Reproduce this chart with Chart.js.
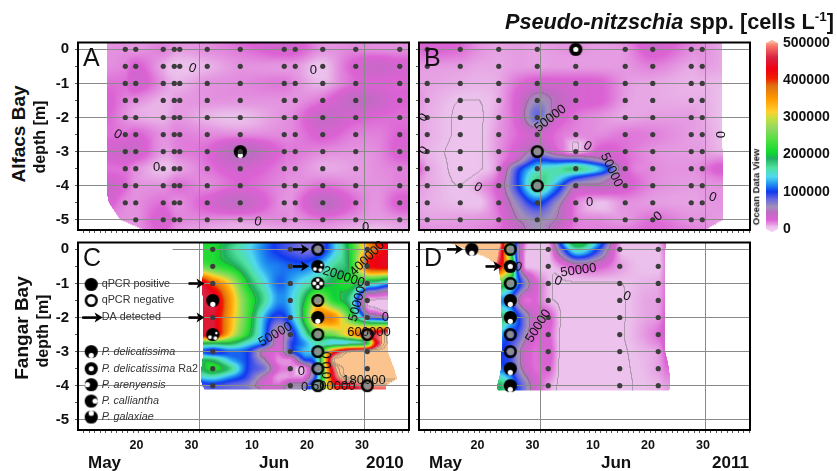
<!DOCTYPE html>
<html>
<head>
<meta charset="utf-8">
<script src="https://cdn.jsdelivr.net/npm/chart.js@4"></script>
<style>
html, body { margin: 0; padding: 0; background: #fff; }
body { position: relative; width: 837px; height: 471px; overflow: hidden; font-family: "Liberation Sans", Arial, sans-serif; color: #111; }
canvas { position: absolute; }
.lbl { position: absolute; font-weight: bold; white-space: nowrap; line-height: 1; }
.rot { transform: translate(-50%, -50%) rotate(-90deg); }
sup { font-size: 62%; line-height: 0; }
</style>
</head>
<body>
<canvas id="panelA" width="373" height="200" style="left:37.5px;top:38px"></canvas>
<canvas id="panelB" width="373" height="200" style="left:379px;top:38px"></canvas>
<canvas id="panelC" width="373" height="218" style="left:37.5px;top:237.5px"></canvas>
<canvas id="panelD" width="373" height="218" style="left:379px;top:237.5px"></canvas>
<canvas id="colorbar" width="77" height="204" style="left:760px;top:34px"></canvas>

<div class="lbl" style="left:505px;top:11px;font-size:21.7px"><i>Pseudo-nitzschia</i> spp. [cells L<sup>-1</sup>]</div>
<div class="lbl rot" style="left:18px;top:134px;font-size:19px">Alfacs Bay</div>
<div class="lbl rot" style="left:40px;top:137px;font-size:16px">depth [m]</div>
<div class="lbl rot" style="left:21px;top:328px;font-size:19px">Fangar Bay</div>
<div class="lbl rot" style="left:43px;top:331px;font-size:16px">depth [m]</div>
<div class="lbl rot" style="left:756px;top:187px;font-size:9.5px;font-weight:bold">Ocean Data View</div>
<div class="lbl" style="left:88px;top:454px;font-size:17px">May</div>
<div class="lbl" style="left:259px;top:454px;font-size:17px">Jun</div>
<div class="lbl" style="left:366px;top:454px;font-size:17px">2010</div>
<div class="lbl" style="left:429px;top:454px;font-size:17px">May</div>
<div class="lbl" style="left:601px;top:454px;font-size:17px">Jun</div>
<div class="lbl" style="left:712px;top:454px;font-size:17px">2011</div>

<script>
// x values are days counted from 1 May (1 Jun = 32, 1 Jul = 62), depth in m, cells in thousands per litre
const monthLines = [32, 62];
const dayTickValues = [20, 30, 41, 51, 61];
const dayTickLabels = ['20', '30', '10', '20', '30'];
const depthTicks = [0, -0.5, -1, -1.5, -2, -2.5, -3, -3.5, -4, -4.5, -5];
const barTicks = [0, 100000, 200000, 300000, 400000, 500000];

// colour scale
const scaleValues = [0, 6, 12, 25, 45, 60, 80, 100, 120, 140, 165, 190, 205, 240, 270, 295, 315, 350, 385, 405, 430, 460, 490, 500];
const scaleColors = ['#f0c8f0', '#ebbfeb', '#e59ce2', '#dc62d4', '#bd6cc2', '#a090b8', '#6868e0', '#1038f0', '#2090f0', '#50d8f0', '#50e0a0', '#20b060', '#10d830', '#50e040', '#90d860', '#c0e040', '#ffd030', '#ff9a00', '#e07010', '#f02000', '#f00010', '#d82040', '#f87068', '#f8a080'];
const overColor = '#fbc48e';

// panel A
const stationDaysA = [18.6, 20.5, 25.5, 27.5, 28.5, 33.5, 39.5, 47.5, 49.5, 54.5, 60.5, 68.5];
const fieldDaysA = [15.2, 18.6, 20.5, 25.5, 28, 33.5, 39.5, 47.5, 49.5, 54.5, 60.5, 64.5, 68.5];
const fieldDepthsA = [0.2, 0, -0.5, -1, -1.5, -2, -2.5, -3, -3.5, -4, -4.5, -5, -5.3];
const fieldA = [
  [14, 14, 13, 16, 14, 15, 24, 32, 30, 14, 16, 15, 15],
  [14, 15, 13, 18, 12, 15, 20, 30, 28, 14, 17, 15, 15],
  [15, 18, 27, 10, 5, 8, 14, 13, 13, 5, 28, 37, 30],
  [22, 22, 32, 14, 8, 14, 16, 20, 15, 8, 24, 26, 24],
  [28, 18, 15, 8, 12, 14, 14, 14, 14, 22, 44, 38, 26],
  [25, 15, 10, 8, 13, 8, 6, 14, 18, 38, 28, 24, 22],
  [22, 22, 26, 14, 18, 16, 16, 16, 18, 28, 18, 18, 25],
  [32, 36, 34, 12, 18, 24, 50, 22, 20, 16, 14, 16, 28],
  [22, 22, 14, 6, 10, 20, 32, 18, 16, 10, 12, 15, 18],
  [38, 24, 14, 14, 22, 16, 25, 16, 14, 22, 15, 14, 18],
  [30, 16, 15, 22, 15, 28, 42, 14, 18, 45, 22, 14, 28],
  [15, 15, 14, 30, 18, 16, 14, 16, 14, 20, 14, 12, 14],
  [12, 12, 14, 26, 14, 10, 8, 10, 10, 12, 8, 6, 10]
];
const edgeDepthsA = [0.2, -4.2, -4.5, -5, -5.3];
const edgeLeftA = [15.2, 15.2, 15.6, 17.7, 22];
const edgeRightA = [71, 71, 71, 71, 71];
const levelsA = [5];
const labelsA = [['0', 30.8, -0.56, 20], ['0', 52.8, -0.63, 0], ['0', 17.2, -2.5, 30], ['0', 24.3, -3.46, 0], ['0', 42.7, -5.06, 10], ['0', 62.3, -5.22, 0]];
const qpcrPositiveA = [[39.5, -3]];

// panel B
const stationDaysB = [11.5, 17.5, 24.5, 31.5, 38.5, 47.5, 52.5, 59.5, 61.5];
const fieldDaysB = [10, 11.5, 17.5, 21, 24.5, 28, 31.5, 35, 38.5, 43, 47.5, 52.5, 59.5, 61.5, 65];
const fieldDepthsB = [0.2, 0, -0.5, -1, -1.5, -2, -2.5, -3, -3.25, -3.5, -3.75, -4, -4.5, -5, -5.3];
const fieldB = [
  [24, 28, 24, 14, 11, 12, 11, 13, 14, 12, 16, 34, 18, 15, 10],
  [22, 26, 22, 14, 11, 12, 11, 13, 14, 12, 14, 30, 16, 15, 10],
  [13, 13, 12, 10, 10, 12, 11, 12, 12, 12, 13, 18, 10, 12, 10],
  [11, 11, 9, 8, 10, 22, 32, 30, 28, 26, 13, 10, 8, 8, 7],
  [13, 10, 5, 5, 10, 30, 62, 45, 30, 26, 12, 10, 9, 9, 6],
  [10, 9, 4, 4, 12, 30, 80, 35, 20, 14, 10, 12, 12, 10, 6],
  [10, 9, 4, 4, 13, 24, 35, 22, 16, 16, 20, 18, 12, 11, 7],
  [10, 8, 3, 4, 14, 32, 58, 30, 4, 30, 22, 14, 12, 12, 8],
  [14, 9, 3, 4, 14, 45, 100, 90, 90, 55, 25, 15, 13, 14, 18],
  [24, 11, 3, 4, 18, 90, 145, 160, 175, 130, 30, 16, 14, 18, 30],
  [16, 10, 4, 8, 25, 100, 170, 150, 105, 70, 30, 16, 13, 15, 20],
  [12, 10, 5, 12, 32, 100, 175, 120, 45, 45, 30, 16, 12, 13, 14],
  [10, 9, 6, 5, 25, 68, 105, 65, 18, 6, 14, 12, 11, 12, 14],
  [12, 11, 12, 14, 20, 50, 65, 50, 20, 16, 13, 22, 14, 14, 12],
  [16, 14, 14, 16, 22, 40, 60, 40, 18, 18, 18, 24, 18, 16, 12]
];
const edgeDepthsB = [0.2, -5, -5.3];
const edgeLeftB = [9, 9, 9];
const edgeRightB = [65, 65.3, 62];
const levelsB = [5, 50];
const labelsB = [['0', 10.8, -2, -60], ['0', 10.9, -2.97, -60], ['50000', 33.9, -2.03, -38], ['0', 40.6, -2.84, 30], ['50000', 45, -3.54, 65], ['0', 20.7, -4.05, 30], ['0', 41, -4.5, 0], ['0', 63.4, -4.34, 20], ['0', 53.5, -4.9, -40], ['0', 64.7, -2.5, 90]];
const ra2B = [[38.5, 0]];
const qpcrNegativeB = [[31.5, -3], [31.5, -4]];

// panel C
const stationDaysC = [34.5, 48.6, 62.6];
const fieldDaysC = [32.3, 34.5, 37.7, 40.8, 43.8, 46.5, 48.6, 51, 53.6, 56.5, 59.5, 62.6, 64.1, 66.2, 67.7];
const fieldDepthsC = [0.2, 0, -0.5, -1, -1.5, -2, -2.5, -2.75, -3, -3.25, -3.5, -3.75, -4, -4.15];
const fieldC = [
  [215, 215, 185, 150, 118, 95, 85, 75, 75, 130, 215, 350, 400, 440, 440],
  [215, 215, 175, 145, 115, 95, 85, 75, 80, 130, 210, 340, 390, 430, 430],
  [250, 230, 205, 165, 125, 115, 110, 110, 130, 170, 205, 400, 430, 440, 440],
  [450, 390, 310, 205, 150, 110, 125, 150, 175, 200, 215, 170, 160, 130, 130],
  [460, 460, 350, 240, 170, 120, 135, 190, 290, 215, 170, 8, 4, 3, 3],
  [450, 450, 340, 235, 130, 90, 120, 205, 370, 360, 240, 100, 80, 60, 60],
  [440, 455, 320, 215, 120, 40, 80, 150, 240, 260, 340, 430, 470, 520, 520],
  [210, 205, 200, 150, 110, 35, 90, 120, 160, 140, 150, 200, 420, 540, 540],
  [110, 90, 110, 100, 40, 25, 90, 130, 170, 400, 530, 550, 550, 550, 550],
  [190, 185, 130, 100, 55, 15, 15, 90, 150, 530, 550, 550, 550, 550, 550],
  [190, 220, 175, 100, 75, 25, 20, 5, 130, 480, 550, 550, 550, 550, 550],
  [140, 150, 120, 90, 45, 12, 15, 20, 130, 450, 550, 550, 550, 550, 550],
  [85, 90, 80, 70, 30, 25, 60, 60, 180, 400, 450, 500, 500, 500, 500],
  [80, 85, 80, 80, 50, 50, 60, 70, 170, 380, 430, 480, 480, 480, 480]
];
const edgeDepthsC = [0.2, -1, -3, -3.5, -3.8, -4, -4.12];
const edgeLeftC = [32.8, 32.6, 32.8, 32.4, 32.3, 32.6, 33];
const edgeRightC = [66.3, 66.3, 66.3, 67.5, 68, 66, 66];
const levelsC = [5, 50, 200, 505, 525, 540];
const labelsC = [['50000', 45.9, -2.5, -30], ['200000', 58.3, -0.81, 18], ['400000', 62.6, -0.27, -45], ['50000', 60.8, -1.6, -75], ['600000', 62.9, -2.43, 0], ['0', 65.9, -2, 0], ['0', 50.6, -3.58, 0], ['0', 51.2, -4.04, 0], ['500000', 56.5, -4.01, 0], ['180000', 62, -3.85, 0], ['0', 55, -3.1, 90], ['0', 55, -3.4, 90], ['0', 55, -3.7, 90]];
const delicatissimaC = [[34.5, -1.5], [53.6, -2]];
const mixedC = [[34.5, -2.5], [53.6, -0.5]];
const checkerC = [[53.6, -1]];
const qpcrNegativeC = [[53.6, 0], [53.6, -1.5], [53.6, -2.5], [53.6, -3], [53.6, -3.5], [53.6, -4], [62.6, -2.5], [62.6, -4]];
const smallDotsC = [[34.5, 0], [34.5, -0.5], [34.5, -1], [34.5, -2], [34.5, -3], [34.5, -3.5], [34.5, -4], [62.6, 0], [62.6, -0.5], [62.6, -1], [62.6, -1.5], [62.6, -2], [62.6, -3], [62.6, -3.5]];
const arrowsC = [[33, -1], [33, -2], [52, 0], [52, -0.5]];

// panel D
const stationDaysD = [33.5, 46.5, 53.5];
const fieldDaysD = [15.6, 18.5, 22.4, 24.8, 26.6, 27.8, 29.3, 31.1, 33.6, 35.6, 38.7, 42.4, 46.6, 50.9, 53.6, 55.1];
const fieldDepthsD = [0.2, 0, -0.5, -1, -1.5, -2, -2.5, -3, -3.5, -4, -4.2];
const fieldD = [
  [550, 550, 550, 500, 220, 90, 15, 5, 8, 100, 210, 130, 10, 6, 8, 25],
  [550, 550, 550, 480, 200, 80, 12, 5, 6, 70, 160, 100, 8, 5, 6, 22],
  [550, 550, 550, 430, 300, 100, 10, 5, 5, 14, 35, 30, 12, 5, 5, 20],
  [230, 230, 230, 230, 170, 120, 70, 30, 8, 4, 4, 4, 5, 8, 10, 22],
  [120, 120, 120, 120, 110, 60, 22, 25, 8, 4, 4, 4, 4, 10, 12, 25],
  [190, 190, 190, 190, 140, 110, 70, 35, 30, 6, 4, 4, 4, 10, 14, 30],
  [125, 125, 125, 125, 100, 90, 60, 28, 25, 5, 4, 4, 4, 12, 22, 38],
  [100, 100, 100, 100, 90, 65, 35, 22, 30, 5, 4, 4, 4, 8, 12, 30],
  [110, 110, 110, 110, 100, 70, 40, 22, 25, 4, 4, 4, 4, 7, 12, 22],
  [190, 190, 190, 190, 140, 100, 70, 35, 12, 4, 4, 4, 4, 6, 8, 12],
  [190, 190, 190, 190, 140, 100, 70, 35, 12, 4, 4, 4, 4, 6, 8, 12]
];
const edgeDepthsD = [0.2, 0, -0.25, -0.5, -1, -2, -3, -3.5, -4, -4.15];
const edgeLeftD = [15.6, 18.5, 22.4, 24.4, 24.9, 25, 25, 24.9, 24.2, 24.3];
const edgeRightD = [55, 54.8, 54.8, 54.8, 54.8, 54.8, 54.8, 55.5, 55.7, 55.5];
const levelsD = [5, 50];
const labelsD = [['0', 28, -0.52, 20], ['50000', 39, -0.62, -8], ['0', 35.3, -0.93, 20], ['0', 47.8, -1.38, 20], ['50000', 31.7, -2.25, -58]];
const delicatissimaD = [[19.6, 0], [26.6, -1.5], [26.6, -2], [26.6, -3.5], [26.6, -4]];
const ra2D = [[26.6, -0.5]];
const qpcrNegativeD = [[26.6, 0], [26.6, -1], [26.6, -2.5], [26.6, -3]];
const arrowsD = [[18, 0], [25, -0.5]];

// legend in panel C
const legendDay = 12.4;
const legendTextDay = 14.3;
const legendNames = ['qPCR positive', 'qPCR negative', 'DA detected', 'P. delicatissima', 'P. delicatissima', 'P. arenyensis', 'P. calliantha', 'P. galaxiae'];
const legendDepths = [-1.03, -1.5, -2, -3, -3.5, -3.97, -4.45, -4.92];

Chart.defaults.font.family = '"Liberation Sans", Arial, sans-serif';

function hexRgb(h) {
  return [parseInt(h.slice(1, 3), 16), parseInt(h.slice(3, 5), 16), parseInt(h.slice(5, 7), 16)];
}
const scaleRgb = scaleColors.map(hexRgb);
const overRgb = hexRgb(overColor);

function colorFor(v) {
  if (v > 500) return overRgb;
  if (v <= 0) return scaleRgb[0];
  for (let i = 1; i < scaleValues.length; i++) {
    if (v <= scaleValues[i]) {
      const t = (v - scaleValues[i - 1]) / (scaleValues[i] - scaleValues[i - 1]);
      const a = scaleRgb[i - 1], b = scaleRgb[i];
      return [a[0] + (b[0] - a[0]) * t, a[1] + (b[1] - a[1]) * t, a[2] + (b[2] - a[2]) * t];
    }
  }
  return overRgb;
}

// position of v inside a sorted list, as fractional index
function fracIndex(list, v) {
  const up = list[0] < list[list.length - 1];
  const n = list.length;
  if (up ? v <= list[0] : v >= list[0]) return 0;
  if (up ? v >= list[n - 1] : v <= list[n - 1]) return n - 1;
  for (let i = 0; i < n - 1; i++) {
    const a = list[i], b = list[i + 1];
    if (up ? v <= b : v >= b) return i + (v - a) / (b - a);
  }
  return n - 1;
}

function edgeAt(depths, edges, d) {
  const f = fracIndex(depths, d);
  const i = Math.min(Math.floor(f), depths.length - 2);
  return edges[i] + (edges[i + 1] - edges[i]) * (f - i);
}

function smooth1(p0, p1, p2, p3, t) {
  const r = 0.5 * (2 * p1 + (p2 - p0) * t + (2 * p0 - 5 * p1 + 4 * p2 - p3) * t * t + (3 * p1 - p0 - 3 * p2 + p3) * t * t * t);
  return Math.max(Math.min(p1, p2), Math.min(Math.max(p1, p2), r));
}

function sampleField(rows, fx, fy) {
  const ny = rows.length, nx = rows[0].length;
  const ix = Math.min(Math.floor(fx), nx - 2), iy = Math.min(Math.floor(fy), ny - 2);
  const tx = fx - ix, ty = fy - iy;
  const col = [];
  for (let k = -1; k <= 2; k++) {
    const r = rows[Math.max(0, Math.min(ny - 1, iy + k))];
    col.push(smooth1(r[Math.max(0, ix - 1)], r[ix], r[ix + 1], r[Math.min(nx - 1, ix + 2)], tx));
  }
  return smooth1(col[0], col[1], col[2], col[3], ty);
}

function renderField(chart, p) {
  const a = chart.chartArea, sx = chart.scales.x, sy = chart.scales.y;
  const w = Math.ceil(a.right - a.left), h = Math.ceil(a.bottom - a.top);
  const off = document.createElement('canvas');
  off.width = w; off.height = h;
  const octx = off.getContext('2d');
  const img = octx.createImageData(w, h);
  const vals = new Float32Array(w * h).fill(-1);
  for (let y = 0; y < h; y++) {
    const d = sy.getValueForPixel(a.top + y + 0.5);
    if (d < p.edgeDepths[p.edgeDepths.length - 1]) continue;
    const left = edgeAt(p.edgeDepths, p.edgeLeft, d), right = edgeAt(p.edgeDepths, p.edgeRight, d);
    const fy = fracIndex(p.fieldDepths, d);
    for (let x = 0; x < w; x++) {
      const t = sx.getValueForPixel(a.left + x + 0.5);
      if (t < left || t > right) continue;
      vals[y * w + x] = sampleField(p.field, fracIndex(p.fieldDays, t), fy);
    }
  }
  const band = v => { let b = 0; for (const l of p.levels) if (v >= l) b++; return b; };
  for (let y = 0; y < h; y++) {
    for (let x = 0; x < w; x++) {
      const v = vals[y * w + x];
      if (v < 0) continue;
      let c = colorFor(v);
      const vr = x + 1 < w ? vals[y * w + x + 1] : -1, vb = y + 1 < h ? vals[(y + 1) * w + x] : -1;
      if ((vr >= 0 && band(vr) !== band(v)) || (vb >= 0 && band(vb) !== band(v))) {
        c = [c[0] * 0.55 + 45, c[1] * 0.55 + 45, c[2] * 0.55 + 45];
      }
      const o = (y * w + x) * 4;
      img.data[o] = c[0]; img.data[o + 1] = c[1]; img.data[o + 2] = c[2]; img.data[o + 3] = 255;
    }
  }
  octx.putImageData(img, 0, 0);
  return off;
}

function makeDisc(spots) {
  const c = document.createElement('canvas');
  c.width = c.height = 15;
  const g = c.getContext('2d');
  g.fillStyle = '#000';
  g.beginPath(); g.arc(7.5, 7.5, 6.6, 0, Math.PI * 2); g.fill();
  g.fillStyle = '#fff';
  spots.forEach(s => { g.beginPath(); g.arc(7.5 + s[0], 7.5 + s[1], s[2], 0, Math.PI * 2); g.fill(); });
  return c;
}
function makeRing(fill) {
  const c = document.createElement('canvas');
  c.width = c.height = 15;
  const g = c.getContext('2d');
  if (fill === '#fff') {
    g.fillStyle = fill;
    g.beginPath(); g.arc(7.5, 7.5, 5.5, 0, Math.PI * 2); g.fill();
  } else {
    g.fillStyle = fill;
    g.beginPath(); g.arc(7.5, 7.5, 3.4, 0, Math.PI * 2); g.fill();
  }
  g.strokeStyle = '#000'; g.lineWidth = 2.5;
  g.beginPath(); g.arc(7.5, 7.5, 5.3, 0, Math.PI * 2); g.stroke();
  return c;
}
const markers = {
  positive: makeDisc([]),
  negative: makeRing('#8c8c8c'),
  negativeWhite: makeRing('#fff'),
  delicatissima: makeDisc([[0, 3.8, 2.6]]),
  ra2: makeDisc([[0, 0, 2.6]]),
  arenyensis: makeDisc([[-3.8, 0, 2.6]]),
  calliantha: makeDisc([[3.8, 0, 2.6]]),
  galaxiae: makeDisc([[0, -3.8, 2.6]]),
  mixed: makeDisc([[-2.8, 2.6, 1.9], [2.6, 3.6, 1.9], [3.6, -1.4, 1.3]]),
  checker: makeDisc([[0, -3.4, 1.9], [0, 3.4, 1.9], [-3.4, 0, 1.9], [3.4, 0, 1.9]])
};

function dotSet(list, radius, color) {
  return { data: list.map(p => ({ x: p[0], y: p[1] })), pointRadius: radius, pointBackgroundColor: color, pointBorderWidth: 0, showLine: false };
}
function markerSet(list, name) {
  return { data: list.map(p => ({ x: p[0], y: p[1] })), pointStyle: markers[name], pointRadius: 7, showLine: false };
}
function grid(days, depths, skip) {
  const out = [];
  days.forEach(d => depths.forEach(z => { if (!(skip && skip(d, z))) out.push([d, z]); }));
  return out;
}

const panelPlugin = {
  id: 'panelPlugin',
  beforeDraw(chart, args, o) {
    const a = chart.chartArea;
    if (!chart.$field) chart.$field = renderField(chart, o);
    chart.ctx.drawImage(chart.$field, a.left, a.top);
  },
  beforeDatasetsDraw(chart, args, o) {
    const a = chart.chartArea, g = chart.ctx, sx = chart.scales.x, sy = chart.scales.y;
    if (o.legend) {
      g.fillStyle = '#fff';
      g.fillRect(a.left, sy.getPixelForValue(0.1), sx.getPixelForValue(27.2) - a.left, 7);
    }
  },
  afterDatasetsDraw(chart, args, o) {
    const a = chart.chartArea, g = chart.ctx, sx = chart.scales.x, sy = chart.scales.y;
    g.save();
    g.fillStyle = '#111';
    g.textAlign = 'center'; g.textBaseline = 'middle';
    g.font = '13px "Liberation Sans"';
    o.labels.forEach(l => {
      g.save();
      g.translate(sx.getPixelForValue(l[1]), sy.getPixelForValue(l[2]));
      g.rotate(l[3] * Math.PI / 180);
      g.fillText(l[0], 0, 0);
      g.restore();
    });
    (o.arrows || []).forEach(r => {
      const x = sx.getPixelForValue(r[0]), y = sy.getPixelForValue(r[1]);
      drawArrow(g, x - 16, x, y);
    });
    if (o.legend) {
      g.textAlign = 'left';
      legendNames.forEach((n, i) => {
        const y = sy.getPixelForValue(legendDepths[i]);
        g.fillStyle = '#333';
        const italic = n.startsWith('P.');
        g.font = (italic ? 'italic ' : '') + '10.8px "Liberation Sans"';
        g.fillText(n, sx.getPixelForValue(legendTextDay), y);
        if (i === 4) {
          const w = g.measureText(n + ' ').width;
          g.font = '10.8px "Liberation Sans"';
          g.fillText('Ra2', sx.getPixelForValue(legendTextDay) + w, y);
        }
      });
      const y = sy.getPixelForValue(-2);
      drawArrow(g, sx.getPixelForValue(legendDay) - 9, sx.getPixelForValue(legendTextDay) + 1, y);
    }
    g.font = '25px "Liberation Sans"';
    g.fillStyle = '#111';
    g.textAlign = 'left'; g.textBaseline = 'alphabetic';
    g.fillText(o.letter, a.left + 5, a.top + 23);
    g.strokeStyle = '#000'; g.lineWidth = 2;
    g.strokeRect(a.left, a.top, a.right - a.left, a.bottom - a.top);
    g.restore();
  }
};

function drawArrow(g, x0, x1, y) {
  g.fillStyle = '#000';
  g.fillRect(x0, y - 1.2, x1 - x0 - 6, 2.6);
  g.beginPath();
  g.moveTo(x1, y);
  g.lineTo(x1 - 8, y - 5);
  g.lineTo(x1 - 6, y);
  g.lineTo(x1 - 8, y + 5);
  g.closePath();
  g.fill();
}

function noPad(s) {
  s.paddingLeft = s.paddingRight = s.paddingTop = s.paddingBottom = 0;
}

function makePanel(id, p) {
  const withX = p.xLabels, withY = p.yLabels;
  new Chart(document.getElementById(id), {
    type: 'scatter',
    data: { datasets: p.datasets },
    options: {
      responsive: false,
      animation: false,
      events: [],
      layout: { autoPadding: false, padding: { left: 0, right: 2, top: 4.5, bottom: 0 } },
      plugins: { legend: { display: false }, tooltip: { enabled: false }, panelPlugin: p },
      scales: {
        x: {
          type: 'linear', min: 10, max: 70.18,
          afterFit(s) { noPad(s); s.height = id === 'panelA' || id === 'panelB' ? 8 : 26; },
          afterBuildTicks(s) {
            const t = [];
            for (let d = 11; d <= 70; d++) t.push({ value: d });
            s.ticks = t;
          },
          border: { display: false },
          grid: {
            color: c => monthLines.includes(c.tick && c.tick.value) ? '#8a8a8a' : 'rgba(0,0,0,0)',
            tickColor: '#555', tickLength: 3, lineWidth: 1
          },
          ticks: {
            autoSkip: false, maxRotation: 0, minRotation: 0, padding: 5, labelOffset: 3.5, color: '#111',
            font: { size: 12.5, weight: 'bold' },
            callback(v) {
              const i = dayTickValues.indexOf(v);
              return withX && i >= 0 ? dayTickLabels[i] : '';
            }
          }
        },
        y: {
          type: 'linear', min: -5.3, max: 0.2,
          afterFit(s) { noPad(s); s.width = 40; },
          afterBuildTicks(s) { s.ticks = depthTicks.map(v => ({ value: v })); },
          border: { display: false },
          grid: {
            color: c => c.tick && Number.isInteger(c.tick.value) ? '#8a8a8a' : 'rgba(0,0,0,0)',
            tickColor: '#555', tickLength: 3, lineWidth: 1
          },
          ticks: {
            autoSkip: false, padding: 6, color: '#111',
            font: { size: 15, weight: 'bold' },
            callback(v) { return withY && Number.isInteger(v) ? String(v) : ''; }
          }
        }
      }
    },
    plugins: [panelPlugin]
  });
}

const DOT = '#3c3c3c';
const depthsFull = depthTicks;
const depthsTo4 = depthTicks.slice(0, 9);

makePanel('panelA', {
  letter: 'A', xLabels: false, yLabels: true,
  fieldDays: fieldDaysA, fieldDepths: fieldDepthsA, field: fieldA,
  edgeDepths: edgeDepthsA, edgeLeft: edgeLeftA, edgeRight: edgeRightA, levels: levelsA, labels: labelsA,
  datasets: [
    dotSet(grid(stationDaysA, depthsFull, (d, z) => d === 18.6 && z === -5), 2.6, DOT),
    markerSet(qpcrPositiveA, 'delicatissima')
  ]
});
makePanel('panelB', {
  letter: 'B', xLabels: false, yLabels: false,
  fieldDays: fieldDaysB, fieldDepths: fieldDepthsB, field: fieldB,
  edgeDepths: edgeDepthsB, edgeLeft: edgeLeftB, edgeRight: edgeRightB, levels: levelsB, labels: labelsB,
  datasets: [
    dotSet(grid(stationDaysB, depthsFull, (d, z) => d === 38.5 && z === 0 || d === 31.5 && (z === -3 || z === -4)), 2.6, DOT),
    markerSet(ra2B, 'ra2'),
    markerSet(qpcrNegativeB, 'negative')
  ]
});
makePanel('panelC', {
  letter: 'C', xLabels: true, yLabels: true, legend: true,
  fieldDays: fieldDaysC, fieldDepths: fieldDepthsC, field: fieldC,
  edgeDepths: edgeDepthsC, edgeLeft: edgeLeftC, edgeRight: edgeRightC, levels: levelsC, labels: labelsC, arrows: arrowsC,
  datasets: [
    dotSet(smallDotsC.concat(grid([48.6], depthsTo4)), 2.6, DOT),
    markerSet(delicatissimaC, 'delicatissima'),
    markerSet(mixedC, 'mixed'),
    markerSet(checkerC, 'checker'),
    markerSet(qpcrNegativeC, 'negative'),
    markerSet([[legendDay, legendDepths[0]]], 'positive'),
    markerSet([[legendDay, legendDepths[1]]], 'negativeWhite'),
    markerSet([[legendDay, legendDepths[3]]], 'delicatissima'),
    markerSet([[legendDay, legendDepths[4]]], 'ra2'),
    markerSet([[legendDay, legendDepths[5]]], 'arenyensis'),
    markerSet([[legendDay, legendDepths[6]]], 'calliantha'),
    markerSet([[legendDay, legendDepths[7]]], 'galaxiae')
  ]
});
makePanel('panelD', {
  letter: 'D', xLabels: true, yLabels: false,
  fieldDays: fieldDaysD, fieldDepths: fieldDepthsD, field: fieldD,
  edgeDepths: edgeDepthsD, edgeLeft: edgeLeftD, edgeRight: edgeRightD, levels: levelsD, labels: labelsD, arrows: arrowsD,
  datasets: [
    dotSet(grid(stationDaysD, depthsTo4), 2.6, DOT),
    markerSet(delicatissimaD, 'delicatissima'),
    markerSet(ra2D, 'ra2'),
    markerSet(qpcrNegativeD, 'negative')
  ]
});

// colour bar
const barCapPlugin = {
  id: 'barCap',
  beforeDatasetsDraw(chart) {
    const a = chart.chartArea, g = chart.ctx;
    const grad = g.createLinearGradient(0, a.bottom, 0, a.top);
    scaleValues.forEach((v, i) => grad.addColorStop(v / 500, scaleColors[i]));
    chart.data.datasets[0].backgroundColor = grad;
    chart.getDatasetMeta(0).data[0].options.backgroundColor = grad;
    const mid = (a.left + a.right) / 2;
    g.fillStyle = '#f6b49a';
    g.beginPath(); g.moveTo(a.left, a.top); g.lineTo(mid, a.top - 3); g.lineTo(a.right, a.top); g.fill();
    g.fillStyle = '#f0c8f0';
    g.beginPath(); g.moveTo(a.left, a.bottom); g.lineTo(mid, a.bottom + 3); g.lineTo(a.right, a.bottom); g.fill();
  }
};
new Chart(document.getElementById('colorbar'), {
  type: 'bar',
  data: { labels: ['cells'], datasets: [{ data: [500000], barPercentage: 1, categoryPercentage: 1, backgroundColor: '#888' }] },
  options: {
    responsive: false, animation: false, events: [],
    layout: { autoPadding: false, padding: { left: 6, right: 0, top: 9, bottom: 9 } },
    plugins: { legend: { display: false }, tooltip: { enabled: false } },
    scales: {
      x: { display: false },
      y: {
        position: 'right', min: 0, max: 500000,
        afterFit(s) { noPad(s); s.width = 59; },
        afterBuildTicks(s) { s.ticks = barTicks.map(v => ({ value: v })); },
        border: { display: false },
        grid: { display: false, drawTicks: false },
        ticks: { padding: 5, color: '#111', font: { size: 14, weight: 'bold' }, callback: v => String(v) }
      }
    }
  },
  plugins: [barCapPlugin]
});
</script>
</body>
</html>
